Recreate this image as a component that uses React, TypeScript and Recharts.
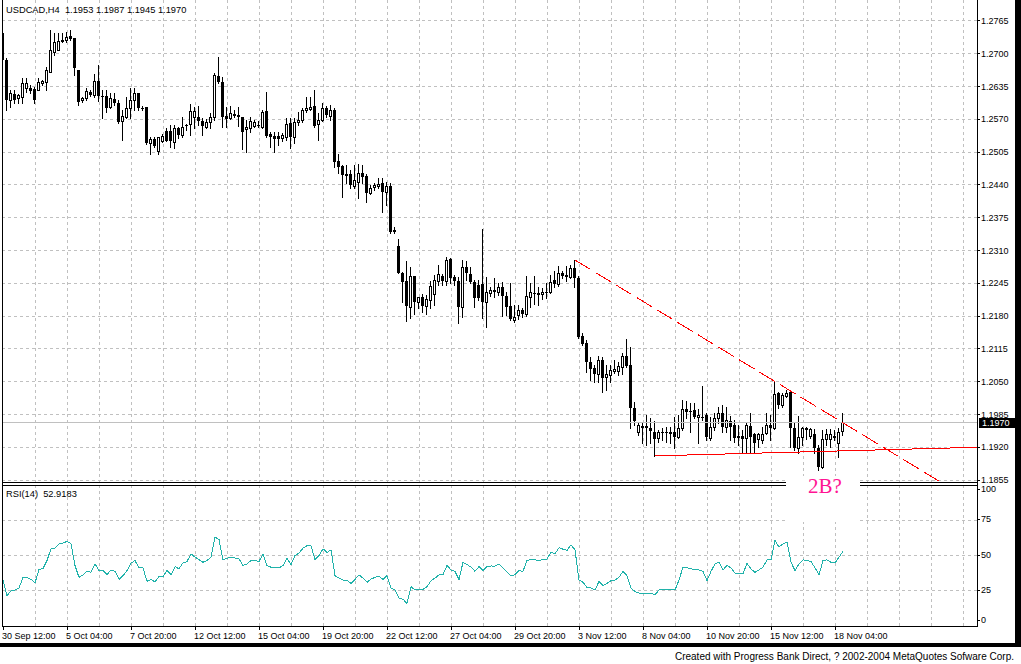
import React from 'react';
import { ComposedChart, Bar, Line, XAxis, YAxis, CartesianGrid, ReferenceLine } from 'recharts';

// USDCAD H4 bars (index 0 = 30 Sep 12:00)
const opens = [
  1.2741, 1.2688, 1.2608, 1.2620, 1.2612, 1.2614, 1.2632, 1.2632, 1.2630, 1.2628,
  1.2642, 1.2644, 1.2664, 1.2703, 1.2707, 1.2725, 1.2727, 1.2735, 1.2731, 1.2668,
  1.2608, 1.2612, 1.2624, 1.2618, 1.2646, 1.2616, 1.2616, 1.2594, 1.2610, 1.2602,
  1.2567, 1.2575, 1.2592, 1.2608, 1.2622, 1.2592, 1.2594, 1.2523, 1.2531, 1.2507,
  1.2527, 1.2547, 1.2547, 1.2525, 1.2553, 1.2539, 1.2559, 1.2561, 1.2575, 1.2575,
  1.2567, 1.2555, 1.2565, 1.2575, 1.2656, 1.2644, 1.2577, 1.2573, 1.2579, 1.2579,
  1.2575, 1.2551, 1.2553, 1.2557, 1.2559, 1.2555, 1.2586, 1.2541, 1.2537, 1.2537,
  1.2533, 1.2535, 1.2563, 1.2535, 1.2565, 1.2569, 1.2588, 1.2590, 1.2596, 1.2561,
  1.2569, 1.2592, 1.2577, 1.2588, 1.2487, 1.2477, 1.2462, 1.2462, 1.2438, 1.2446,
  1.2464, 1.2458, 1.2424, 1.2436, 1.2438, 1.2444, 1.2426, 1.2438, 1.2351, 1.2319,
  1.2265, 1.2250, 1.2198, 1.2259, 1.2208, 1.2218, 1.2200, 1.2212, 1.2224, 1.2250,
  1.2259, 1.2250, 1.2293, 1.2257, 1.2250, 1.2198, 1.2277, 1.2263, 1.2248, 1.2242,
  1.2244, 1.2208, 1.2226, 1.2230, 1.2228, 1.2238, 1.2220, 1.2200, 1.2172, 1.2182,
  1.2192, 1.2184, 1.2218, 1.2226, 1.2226, 1.2224, 1.2228, 1.2228, 1.2252, 1.2244,
  1.2265, 1.2261, 1.2257, 1.2275, 1.2255, 1.2141, 1.2127, 1.2089, 1.2077, 1.2065,
  1.2093, 1.2059, 1.2063, 1.2071, 1.2071, 1.2079, 1.2101, 1.2083, 1.1998, 1.1950,
  1.1962, 1.1962, 1.1958, 1.1950, 1.1938, 1.1950, 1.1950, 1.1948, 1.1950, 1.1940,
  1.1958, 1.1996, 1.1992, 1.1994, 1.1980, 1.1980, 1.1984, 1.1938, 1.1960, 1.1978,
  1.1988, 1.1960, 1.1972, 1.1964, 1.1942, 1.1942, 1.1938, 1.1962, 1.1946, 1.1936,
  1.1934, 1.1948, 1.1964, 1.1958, 1.2028, 1.2004, 1.2022, 1.2030, 1.1958, 1.1919,
  1.1940, 1.1958, 1.1942, 1.1946, 1.1919, 1.1881, 1.1936, 1.1936, 1.1942, 1.1928,
  1.1953,
];

const highs = [
  1.2745, 1.2691, 1.2628, 1.2628, 1.2620, 1.2652, 1.2652, 1.2638, 1.2634, 1.2652,
  1.2648, 1.2674, 1.2747, 1.2741, 1.2741, 1.2741, 1.2743, 1.2747, 1.2731, 1.2668,
  1.2614, 1.2632, 1.2628, 1.2660, 1.2678, 1.2628, 1.2628, 1.2622, 1.2622, 1.2608,
  1.2588, 1.2614, 1.2632, 1.2632, 1.2622, 1.2596, 1.2594, 1.2535, 1.2535, 1.2535,
  1.2541, 1.2553, 1.2559, 1.2559, 1.2555, 1.2575, 1.2561, 1.2600, 1.2594, 1.2596,
  1.2573, 1.2571, 1.2582, 1.2662, 1.2693, 1.2654, 1.2594, 1.2596, 1.2588, 1.2594,
  1.2575, 1.2569, 1.2575, 1.2569, 1.2567, 1.2588, 1.2624, 1.2545, 1.2545, 1.2545,
  1.2543, 1.2573, 1.2573, 1.2573, 1.2584, 1.2592, 1.2614, 1.2614, 1.2628, 1.2582,
  1.2602, 1.2596, 1.2598, 1.2592, 1.2501, 1.2479, 1.2479, 1.2470, 1.2479, 1.2481,
  1.2479, 1.2462, 1.2440, 1.2444, 1.2454, 1.2454, 1.2446, 1.2444, 1.2357, 1.2333,
  1.2267, 1.2289, 1.2277, 1.2259, 1.2218, 1.2224, 1.2222, 1.2250, 1.2261, 1.2281,
  1.2263, 1.2297, 1.2295, 1.2261, 1.2257, 1.2291, 1.2289, 1.2277, 1.2252, 1.2252,
  1.2353, 1.2257, 1.2238, 1.2255, 1.2246, 1.2248, 1.2228, 1.2246, 1.2202, 1.2202,
  1.2196, 1.2259, 1.2246, 1.2259, 1.2238, 1.2236, 1.2246, 1.2261, 1.2269, 1.2279,
  1.2269, 1.2279, 1.2281, 1.2291, 1.2259, 1.2146, 1.2133, 1.2099, 1.2083, 1.2101,
  1.2099, 1.2083, 1.2083, 1.2093, 1.2089, 1.2107, 1.2135, 1.2119, 1.2010, 1.1968,
  1.1968, 1.1984, 1.1978, 1.1972, 1.1954, 1.1958, 1.1960, 1.1960, 1.1980, 1.1984,
  1.2014, 1.2012, 1.2008, 1.2008, 1.1996, 1.2041, 1.1988, 1.1980, 1.1988, 1.2000,
  1.2004, 1.2000, 1.1982, 1.1974, 1.1964, 1.1954, 1.1968, 1.1988, 1.1948, 1.1948,
  1.1960, 1.1988, 1.1984, 1.2049, 1.2030, 1.2028, 1.2034, 1.2034, 1.1968, 1.1982,
  1.1960, 1.1960, 1.1958, 1.1956, 1.1925, 1.1954, 1.1956, 1.1956, 1.1954, 1.1958,
  1.1987,
];

const lows = [
  1.2668, 1.2588, 1.2594, 1.2602, 1.2602, 1.2602, 1.2624, 1.2622, 1.2602, 1.2628,
  1.2638, 1.2628, 1.2664, 1.2697, 1.2707, 1.2723, 1.2723, 1.2727, 1.2658, 1.2598,
  1.2604, 1.2608, 1.2616, 1.2614, 1.2606, 1.2573, 1.2584, 1.2592, 1.2598, 1.2563,
  1.2529, 1.2573, 1.2573, 1.2588, 1.2588, 1.2588, 1.2521, 1.2501, 1.2515, 1.2501,
  1.2525, 1.2527, 1.2515, 1.2513, 1.2533, 1.2535, 1.2549, 1.2539, 1.2553, 1.2559,
  1.2539, 1.2553, 1.2553, 1.2569, 1.2642, 1.2555, 1.2555, 1.2571, 1.2575, 1.2557,
  1.2511, 1.2505, 1.2545, 1.2555, 1.2555, 1.2553, 1.2535, 1.2515, 1.2505, 1.2519,
  1.2527, 1.2529, 1.2513, 1.2523, 1.2559, 1.2565, 1.2584, 1.2588, 1.2555, 1.2529,
  1.2567, 1.2575, 1.2569, 1.2475, 1.2464, 1.2416, 1.2444, 1.2434, 1.2434, 1.2414,
  1.2444, 1.2406, 1.2422, 1.2430, 1.2434, 1.2386, 1.2400, 1.2345, 1.2345, 1.2265,
  1.2208, 1.2170, 1.2176, 1.2184, 1.2196, 1.2188, 1.2184, 1.2196, 1.2202, 1.2242,
  1.2242, 1.2242, 1.2246, 1.2242, 1.2166, 1.2178, 1.2252, 1.2246, 1.2198, 1.2212,
  1.2176, 1.2158, 1.2220, 1.2218, 1.2222, 1.2180, 1.2182, 1.2172, 1.2168, 1.2174,
  1.2178, 1.2180, 1.2198, 1.2204, 1.2202, 1.2214, 1.2216, 1.2226, 1.2238, 1.2240,
  1.2255, 1.2250, 1.2255, 1.2238, 1.2137, 1.2123, 1.2069, 1.2053, 1.2049, 1.2049,
  1.2030, 1.2034, 1.2049, 1.2067, 1.2063, 1.2065, 1.2079, 1.1958, 1.1964, 1.1944,
  1.1928, 1.1925, 1.1928, 1.1903, 1.1930, 1.1934, 1.1930, 1.1928, 1.1919, 1.1938,
  1.1954, 1.1978, 1.1950, 1.1978, 1.1928, 1.1974, 1.1934, 1.1934, 1.1954, 1.1968,
  1.1950, 1.1950, 1.1934, 1.1930, 1.1925, 1.1911, 1.1909, 1.1911, 1.1909, 1.1921,
  1.1928, 1.1946, 1.1934, 1.1956, 1.1998, 1.2000, 1.2020, 1.1921, 1.1915, 1.1909,
  1.1925, 1.1936, 1.1938, 1.1909, 1.1875, 1.1879, 1.1925, 1.1921, 1.1934, 1.1901,
  1.1945,
];

const closes = [
  1.2688, 1.2608, 1.2622, 1.2608, 1.2618, 1.2642, 1.2642, 1.2626, 1.2608, 1.2644,
  1.2646, 1.2668, 1.2707, 1.2723, 1.2725, 1.2727, 1.2733, 1.2729, 1.2672, 1.2604,
  1.2612, 1.2626, 1.2618, 1.2646, 1.2616, 1.2614, 1.2592, 1.2612, 1.2602, 1.2565,
  1.2577, 1.2592, 1.2608, 1.2622, 1.2592, 1.2590, 1.2523, 1.2531, 1.2517, 1.2535,
  1.2537, 1.2527, 1.2527, 1.2553, 1.2539, 1.2555, 1.2557, 1.2586, 1.2586, 1.2567,
  1.2557, 1.2565, 1.2575, 1.2658, 1.2644, 1.2575, 1.2571, 1.2582, 1.2580, 1.2575,
  1.2545, 1.2555, 1.2567, 1.2565, 1.2557, 1.2584, 1.2537, 1.2535, 1.2531, 1.2531,
  1.2539, 1.2561, 1.2535, 1.2565, 1.2569, 1.2588, 1.2592, 1.2594, 1.2557, 1.2569,
  1.2592, 1.2579, 1.2588, 1.2485, 1.2475, 1.2460, 1.2458, 1.2440, 1.2450, 1.2464,
  1.2456, 1.2424, 1.2434, 1.2440, 1.2442, 1.2426, 1.2438, 1.2347, 1.2347, 1.2265,
  1.2248, 1.2200, 1.2259, 1.2208, 1.2218, 1.2200, 1.2214, 1.2240, 1.2252, 1.2263,
  1.2250, 1.2291, 1.2255, 1.2250, 1.2198, 1.2277, 1.2265, 1.2248, 1.2216, 1.2216,
  1.2208, 1.2228, 1.2232, 1.2232, 1.2238, 1.2220, 1.2198, 1.2174, 1.2178, 1.2192,
  1.2184, 1.2220, 1.2228, 1.2224, 1.2222, 1.2228, 1.2226, 1.2248, 1.2244, 1.2265,
  1.2259, 1.2257, 1.2275, 1.2255, 1.2139, 1.2125, 1.2089, 1.2075, 1.2065, 1.2093,
  1.2057, 1.2065, 1.2073, 1.2075, 1.2081, 1.2101, 1.2081, 1.1998, 1.1972, 1.1964,
  1.1958, 1.1958, 1.1952, 1.1936, 1.1950, 1.1948, 1.1948, 1.1950, 1.1940, 1.1958,
  1.1996, 1.1990, 1.1990, 1.1980, 1.1984, 1.1978, 1.1940, 1.1960, 1.1978, 1.1988,
  1.1960, 1.1974, 1.1960, 1.1938, 1.1938, 1.1936, 1.1964, 1.1940, 1.1928, 1.1946,
  1.1946, 1.1964, 1.1958, 1.2026, 1.2004, 1.2024, 1.2028, 1.1958, 1.1919, 1.1940,
  1.1958, 1.1954, 1.1956, 1.1919, 1.1881, 1.1936, 1.1946, 1.1946, 1.1938, 1.1950,
  1.1970,
];

const rsiValues = [
  32.6, 21.4, 25.0, 25.5, 26.9, 34.5, 34.5, 33.1, 30.5, 40.2,
  40.7, 46.4, 54.8, 55.2, 58.3, 58.8, 60.0, 58.3, 42.9, 34.5,
  36.2, 38.8, 38.1, 44.1, 39.3, 39.3, 36.4, 39.8, 38.8, 33.1,
  35.7, 39.3, 44.5, 46.4, 41.2, 41.2, 31.7, 33.1, 31.2, 35.2,
  35.0, 39.3, 36.4, 42.1, 40.5, 44.8, 45.7, 51.2, 48.8, 47.1,
  45.2, 46.4, 48.8, 63.1, 61.4, 47.1, 48.1, 48.8, 48.3, 47.6,
  42.9, 44.0, 46.4, 46.4, 45.7, 51.2, 42.9, 41.7, 41.2, 41.2,
  42.9, 48.1, 43.6, 50.0, 51.7, 55.2, 56.9, 56.9, 47.1, 50.0,
  54.8, 52.1, 54.0, 35.7, 34.0, 32.6, 32.6, 30.2, 33.1, 36.2,
  34.0, 31.0, 33.3, 34.5, 35.2, 33.1, 35.7, 26.7, 25.7, 19.8,
  19.0, 16.0, 27.9, 25.5, 26.2, 26.0, 27.9, 32.1, 34.0, 36.2,
  36.4, 42.9, 39.8, 38.8, 32.9, 45.2, 43.6, 41.7, 38.8, 42.1,
  39.3, 42.1, 42.6, 42.4, 44.0, 41.2, 38.1, 35.7, 36.4, 39.3,
  38.8, 46.4, 47.1, 46.9, 46.4, 47.4, 47.4, 52.4, 51.2, 55.5,
  54.5, 53.6, 57.6, 54.0, 32.6, 31.0, 27.4, 26.9, 25.5, 31.7,
  28.6, 30.2, 32.1, 32.6, 34.5, 38.8, 35.7, 26.9, 24.5, 23.3,
  23.3, 23.1, 23.1, 22.1, 25.5, 26.0, 26.0, 26.2, 25.5, 32.6,
  41.7, 41.2, 40.7, 39.8, 39.8, 38.8, 32.1, 38.8, 44.0, 45.2,
  39.8, 42.9, 41.2, 37.4, 37.4, 36.9, 44.5, 40.5, 38.1, 39.8,
  41.7, 46.9, 46.9, 60.7, 56.0, 58.3, 59.5, 45.2, 39.3, 44.0,
  46.9, 46.4, 45.7, 41.2, 36.4, 46.4, 46.9, 45.2, 44.8, 48.8,
  52.9183,
];

const timeLabels = [
  '30 Sep 12:00', '5 Oct 04:00', '7 Oct 20:00', '12 Oct 12:00', '15 Oct 04:00',
  '19 Oct 20:00', '22 Oct 12:00', '27 Oct 04:00', '29 Oct 20:00', '3 Nov 12:00',
  '8 Nov 04:00', '10 Nov 20:00', '15 Nov 12:00', '18 Nov 04:00',
];
const timeTickBars = [0, 16, 32, 48, 64, 80, 96, 112, 128, 144, 160, 176, 192, 208];
const gridBars = [8, 16, 24, 32, 40, 48, 56, 64, 72, 80, 88, 96, 104, 112, 120, 128, 136, 144, 152, 160, 168, 176, 184, 192, 200, 208, 216, 224, 232, 240];

const priceTicks = [
  1.2765, 1.2700, 1.2635, 1.2570, 1.2505, 1.2440, 1.2375, 1.2310,
  1.2245, 1.2180, 1.2115, 1.2050, 1.1985, 1.1920, 1.1855,
];
const rsiTicks = [0, 25, 50, 75, 100];
const rsiGrid = [25, 50, 75];

// trend lines drawn on the chart (bar index, price)
const resistanceLine = [{ i: 143, price: 1.2291 }, { i: 234.2, price: 1.1852 }];
const supportLine = [{ i: 163, price: 1.1903 }, { i: 243.5, price: 1.1920 }];

const FONT = "'Liberation Sans', Arial, sans-serif";
const GRID = '#C0C0C0';
const X_DOMAIN: [number, number] = [-0.25, 243.5];
const PRICE_DOMAIN: [number, number] = [1.18512, 1.28064];

const candles = opens.map((o, i) => ({
  i,
  o,
  h: highs[i],
  l: lows[i],
  c: closes[i],
  range: [lows[i], highs[i]],
  rsi: rsiValues[i],
}));

const last = candles.length - 1;

const Candle = (props: any) => {
  const { x, y, width, height, payload } = props;
  if (!payload) return null;
  const top = Math.min(y, y + height);
  const bottom = Math.max(y, y + height);
  const span = payload.h - payload.l;
  const toY = (p: number) => (span > 0 ? top + ((payload.h - p) / span) * (bottom - top) : top);
  const cx = Math.floor(x + width / 2 + 0.001);
  const yo = toY(payload.o);
  const yc = toY(payload.c);
  const bTop = Math.round(Math.min(yo, yc));
  const bBot = Math.round(Math.max(yo, yc));
  const up = payload.c > payload.o;
  return (
    <g>
      <line x1={cx + 0.5} x2={cx + 0.5} y1={Math.round(top)} y2={Math.round(bottom) + 1} stroke="#000" />
      {up ? (
        <rect x={cx - 0.5} y={bTop + 0.5} width={2} height={Math.max(bBot - bTop, 1)} fill="#fff" stroke="#000" />
      ) : (
        <rect x={cx - 1} y={bTop} width={3} height={Math.max(bBot - bTop, 1)} fill="#000" />
      )}
    </g>
  );
};

const PriceTag = (props: any) => {
  const vb = props.viewBox;
  if (!vb) return null;
  const x0 = vb.x + vb.width + 2;
  const yy = Math.round(vb.y);
  return (
    <g>
      <rect x={x0} y={yy - 4} width={42} height={10} fill="#000" />
      <text x={x0 + 3} y={yy + 4} fill="#fff" fontSize={9} fontFamily={FONT}>
        {closes[last].toFixed(4)}
      </text>
    </g>
  );
};

const TimeTick = (props: any) => {
  const { x, y, payload } = props;
  const k = timeTickBars.indexOf(payload.value);
  const px = Math.floor(x + 0.001);
  return (
    <g>
      <line x1={px + 0.5} x2={px + 0.5} y1={y} y2={y + 4} stroke="#000" />
      <text x={px - 1} y={y + 12.5} fontSize={9} fontFamily={FONT} fill="#000" textAnchor="start">
        {timeLabels[k]}
      </text>
    </g>
  );
};

const RsiTick = (props: any) => {
  const { x, y, payload } = props;
  const v = payload.value;
  const ty = v === 100 ? y + 3.5 : v === 0 ? y - 6 : y - 1;
  const ly = Math.round(ty) + 0.5;
  return (
    <g>
      <line x1={x} x2={x + 3} y1={ly} y2={ly} stroke="#000" />
      <text x={x + 4} y={ty} dy="0.355em" fontSize={9} fontFamily={FONT} fill="#000">
        {v}
      </text>
    </g>
  );
};

export default function App() {
  return (
    <div style={{ position: 'fixed', left: 0, top: 0, width: 1021, height: 664, background: '#fff', overflow: 'hidden' }}>
      <style>{'svg { shape-rendering: crispEdges; }'}</style>
      <div style={{ position: 'absolute', left: 0, top: 0 }}>
        <ComposedChart width={1021} height={490} data={candles} margin={{ top: 0, right: 0, bottom: 8, left: 2 }}>
          <CartesianGrid stroke={GRID} strokeDasharray="3 3" horizontalValues={priceTicks} verticalValues={gridBars} />
          <XAxis type="number" dataKey="i" domain={X_DOMAIN} allowDataOverflow hide />
          <YAxis
            orientation="right"
            width={44}
            domain={PRICE_DOMAIN}
            allowDataOverflow
            ticks={priceTicks}
            interval={0}
            tickFormatter={(v: number) => v.toFixed(4)}
            tickSize={3}
            tickMargin={1}
            axisLine={false}
            tickLine={{ stroke: '#000' }}
            tick={{ fontSize: 9, fill: '#000', fontFamily: FONT }}
          />
          <ReferenceLine y={closes[last]} stroke={GRID} label={PriceTag} />
          <Bar dataKey="range" shape={Candle} barSize={3} isAnimationActive={false} />
          <ReferenceLine
            segment={resistanceLine.map((p) => ({ x: p.i, y: p.price }))}
            stroke="#FF0000"
            strokeDasharray="18 6"
            ifOverflow="visible"
          />
          <ReferenceLine segment={supportLine.map((p) => ({ x: p.i, y: p.price }))} stroke="#FF0000" ifOverflow="visible" />
        </ComposedChart>
      </div>

      <div style={{ position: 'absolute', left: 0, top: 485 }}>
        <ComposedChart width={1021} height={156} data={candles} margin={{ top: 0, right: 0, bottom: 0, left: 2 }}>
          <CartesianGrid stroke={GRID} strokeDasharray="3 3" horizontalValues={rsiGrid} verticalValues={gridBars} />
          <XAxis
            type="number"
            dataKey="i"
            domain={X_DOMAIN}
            allowDataOverflow
            ticks={timeTickBars}
            interval={0}
            height={15}
            tickSize={0}
            tickMargin={0}
            axisLine={false}
            tickLine={false}
            tick={(p: any) => <TimeTick {...p} />}
          />
          <YAxis
            orientation="right"
            width={44}
            domain={[0, 100]}
            allowDataOverflow
            ticks={rsiTicks}
            interval={0}
            tickSize={0}
            tickMargin={0}
            axisLine={false}
            tickLine={false}
            tick={(p: any) => <RsiTick {...p} />}
          />
          <Line dataKey="rsi" type="linear" stroke="#20B2AA" strokeWidth={1} dot={false} isAnimationActive={false} />
        </ComposedChart>
      </div>

      <svg width={1021} height={664} style={{ position: 'absolute', left: 0, top: 0, pointerEvents: 'none' }}>
        <line x1={2.5} y1={0} x2={2.5} y2={627} stroke="#000" />
        <line x1={977.5} y1={0} x2={977.5} y2={627} stroke="#000" />
        <line x1={2} y1={482.5} x2={978} y2={482.5} stroke="#000" />
        <line x1={2} y1={485.5} x2={978} y2={485.5} stroke="#000" />
        <line x1={2} y1={626.5} x2={978} y2={626.5} stroke="#000" />
        <rect x={1015} y={0} width={6} height={647} fill="#000" />
        <rect x={0} y={643} width={1021} height={4} fill="#000" />
        <text x={6} y={13} fontSize={9.3} fontFamily={FONT} fill="#000" style={{ whiteSpace: 'pre' }}>
          {`USDCAD,H4  ${opens[last].toFixed(4)} ${highs[last].toFixed(4)} ${lows[last].toFixed(4)} ${closes[last].toFixed(4)}`}
        </text>
        <text x={6} y={497} fontSize={9.3} fontFamily={FONT} fill="#000" style={{ whiteSpace: 'pre' }}>
          {`RSI(14)  ${rsiValues[last].toFixed(4)}`}
        </text>
        <rect x={786} y={476} width={74} height={46} fill="#fff" />
        <text x={808} y={493} fontSize={21} fontFamily="'Liberation Serif', 'Times New Roman', serif" fill="#FF1493">
          2B?
        </text>
        <text x={1014} y={660} textAnchor="end" fontSize={10} fontFamily={FONT} fill="#000">
          Created with Progress Bank Direct, ? 2002-2004 MetaQuotes Sofware Corp.
        </text>
      </svg>
    </div>
  );
}
